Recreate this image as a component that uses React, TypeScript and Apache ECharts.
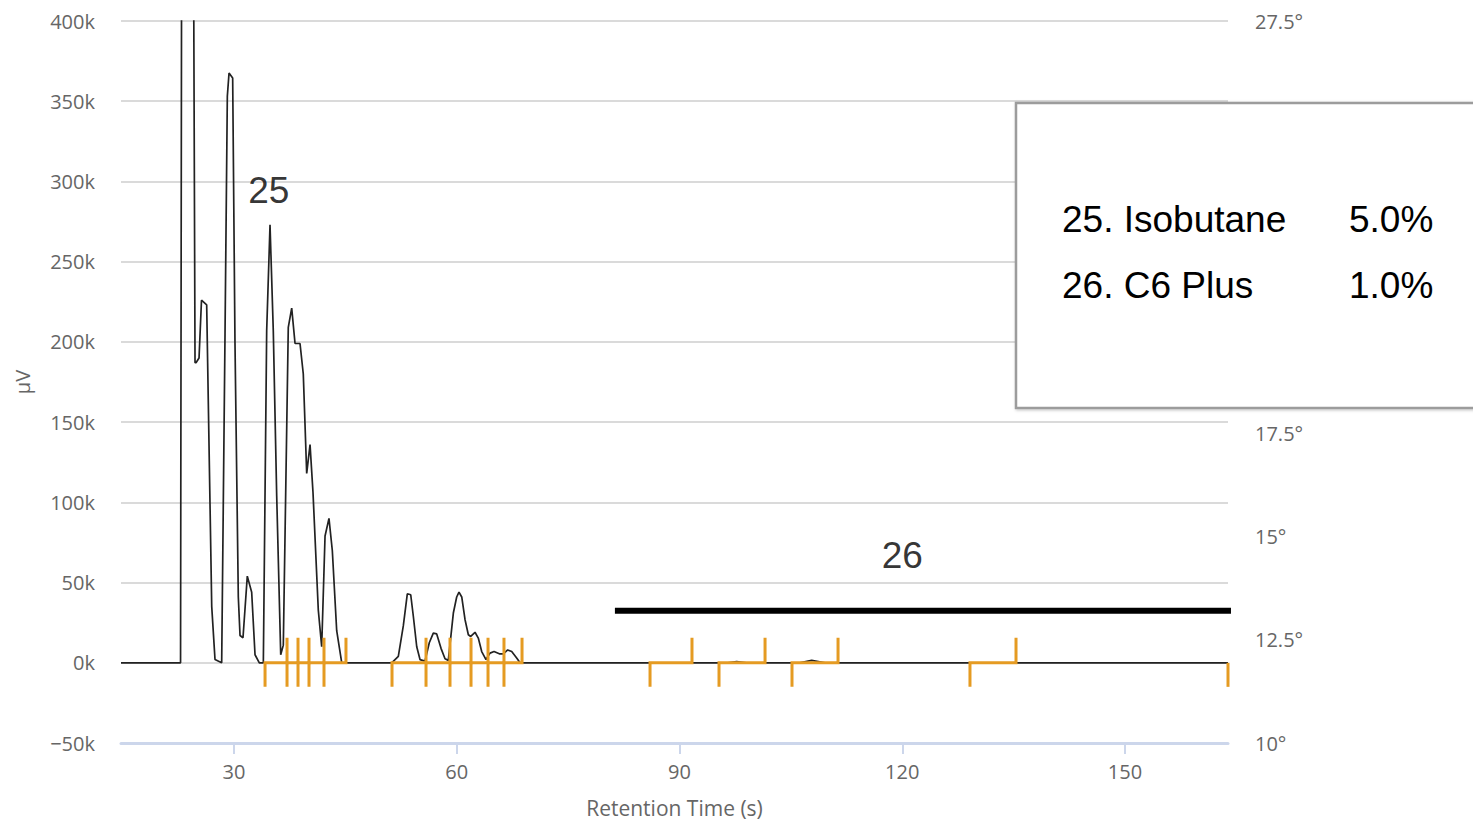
import React, { useEffect, useRef } from 'react';
import * as echarts from 'echarts';

// Chromatogram signal (retention time s, µV)
const signalTime = [
  14.78, 22.8, 23.0, 24.4, 24.75, 24.88, 25.29, 25.62, 26.32, 27.0, 27.44, 28.34,
  28.38, 28.79, 29.1, 29.33, 29.82, 30.13, 30.58, 30.81, 31.21, 31.79, 32.38, 32.83, 33.41,
  33.95, 34.4, 34.85, 35.29, 35.75, 36.29, 36.64, 37.31, 37.77, 38.22, 38.89, 39.33, 39.79,
  40.24, 40.64, 41.35, 41.81, 42.26, 42.79, 43.24, 43.83, 44.51,
  51.24, 52.13, 52.8, 53.34, 53.8, 54.15, 54.61, 55.05, 55.72, 56.3, 56.84, 57.3, 57.88,
  58.42, 58.86, 59.54, 59.99, 60.3, 60.67, 61.11, 61.56, 61.88, 62.46, 62.9, 63.36, 63.94,
  64.48, 65.02, 65.73, 66.27, 66.86, 67.4, 68.07, 68.52,
  96.5, 97.7, 99.0, 106.2, 107.8, 109.6, 163.87,
];
const signalValue = [
  0, 0, 620000, 640000, 187000, 187000, 190000, 226000, 223000, 35000, 2000, 0,
  0, 205000, 353000, 367600, 364500, 200000, 41000, 17000, 15600, 54000, 44000, 5000, 0,
  0, 207000, 273000, 207000, 104000, 5000, 11000, 209000, 221000, 199000, 199000, 180000, 118000,
  136000, 106000, 33000, 10000, 79000, 90000, 70000, 20000, 0,
  0, 4000, 23000, 43000, 42400, 29000, 10000, 2000, 1000, 12500, 18500, 18000, 9000,
  2500, 1500, 31000, 41000, 44000, 41000, 27000, 17500, 16400, 19000, 15400, 7000, 2000,
  6000, 7000, 5600, 5600, 8000, 7000, 3000, 0,
  0, 800, 0, 0, 1500, 0, 0,
];

// Integration windows (start, end) in seconds
const peakStarts = [34.18, 37.14, 38.62, 40.1, 42.12, 51.28, 55.86, 59.09, 61.92, 64.21, 66.36, 86.03, 95.32, 105.15, 129.12, 163.87];
const peakEnds = [37.14, 38.62, 40.1, 42.12, 45.08, 55.86, 59.09, 61.92, 64.21, 66.36, 68.79, 91.68, 101.52, 111.35, 135.32, 175];
const markerUp = 15600;
const markerDown = -15000;

// Component 26 range bar
const barStart = 81.3;
const barEnd = 164.27;
const barLevel = 32400;

// Peak labels
const peakLabelNames = ['25', '26'];
const peakLabelTime = [34.69, 120];
const peakLabelValue = [294500, 66700];

// Legend table
const compNames = ['25. Isobutane', '26. C6 Plus'];
const compPercents = ['5.0%', '1.0%'];

const xTicks = [30, 60, 90, 120, 150];
// right-axis labels visible (others are hidden behind the legend box)
const rightLabelsShown = [10, 12.5, 15, 17.5, 27.5];

const FONT = "'Open Sans', 'Noto Sans', sans-serif";
const BIG = "'Liberation Sans', Arial, sans-serif";
const ORANGE = '#e59b22';

export default function App() {
  const ref = useRef<HTMLDivElement>(null);
  useEffect(() => {
    const chart = echarts.init(ref.current!, null, { renderer: 'svg' });
    const signal = signalTime.map((t, i) => [t, signalValue[i]]);
    const peaks = peakStarts.map((s, i) => [s, peakEnds[i]]);
    const labels = peakLabelTime.map((t, i) => ({ value: [t, peakLabelValue[i]], name: peakLabelNames[i] }));

    const graphics: any[] = [
      {
        type: 'rect',
        z: 100,
        shape: { x: 1016, y: 103, width: 520, height: 305 },
        style: { fill: '#fff', stroke: '#9c9c9c', lineWidth: 2.5, shadowBlur: 3, shadowColor: 'rgba(0,0,0,0.25)', shadowOffsetX: 1, shadowOffsetY: 1 },
      },
    ];
    compNames.forEach((n, i) => {
      graphics.push({
        type: 'text', z: 101, x: 1062, y: 219 + i * 66,
        style: { text: n, font: `37px ${BIG}`, fill: '#000', textVerticalAlign: 'middle', textAlign: 'left' },
      });
      graphics.push({
        type: 'text', z: 101, x: 1349, y: 219 + i * 66,
        style: { text: compPercents[i], font: `37px ${BIG}`, fill: '#000', textVerticalAlign: 'middle', textAlign: 'left' },
      });
    });

    const option: any = {
      animation: false,
      backgroundColor: '#fff',
      grid: { left: 121, right: 245, top: 21, height: 722, containLabel: false, outerBoundsMode: 'none' },
      xAxis: {
        type: 'value',
        min: 14.78,
        max: 163.87,
        name: 'Retention Time (s)',
        nameLocation: 'middle',
        nameGap: 54,
        nameTextStyle: { fontFamily: FONT, fontSize: 21, lineHeight: 21, color: '#666' },
        axisLine: { show: true, onZero: false, lineStyle: { color: '#ccd6eb', width: 3 } },
        axisTick: { show: true, customValues: xTicks, length: 11, lineStyle: { color: '#ccd6eb', width: 2 } },
        axisLabel: { customValues: xTicks, margin: 18, fontFamily: FONT, fontSize: 20, color: '#666' },
        splitLine: { show: false },
      },
      yAxis: [
        {
          type: 'value',
          min: -50000,
          max: 400000,
          interval: 50000,
          name: 'µV',
          nameLocation: 'middle',
          nameGap: 89,
          nameRotate: 90,
          nameTextStyle: { fontFamily: FONT, fontSize: 20, color: '#666' },
          axisLine: { show: false },
          axisTick: { show: false },
          axisLabel: {
            margin: 26, fontFamily: FONT, fontSize: 20, color: '#666',
            formatter: (v: number) => (v < 0 ? '\u2212' + Math.abs(v) / 1000 + 'k' : v / 1000 + 'k'),
          },
          splitLine: { show: true, lineStyle: { color: '#dadada', width: 2 } },
        },
        {
          type: 'value',
          position: 'right',
          min: 10,
          max: 27.5,
          interval: 2.5,
          axisLine: { show: false },
          axisTick: { show: false },
          splitLine: { show: false },
          axisLabel: {
            margin: 27, fontFamily: FONT, fontSize: 20, color: '#666',
            formatter: (v: number) => (rightLabelsShown.indexOf(v) >= 0 ? v + '°' : ''),
          },
        },
      ],
      series: [
        {
          type: 'line',
          data: signal,
          showSymbol: false,
          symbol: 'none',
          lineStyle: { color: '#222', width: 1.7 },
          z: 2,
          silent: true,
        },
        {
          type: 'custom',
          data: peaks,
          encode: { x: [0, 1] },
          z: 3,
          renderItem: (params: any, api: any) => {
            const s = api.value(0);
            const e = api.value(1);
            const cs = params.coordSys;
            const right = cs.x + cs.width;
            const p0 = api.coord([s, markerDown]);
            const p1 = api.coord([s, 0]);
            const p2 = api.coord([e, 0]);
            const p3 = api.coord([e, markerUp]);
            const pts = p2[0] > right + 0.5 ? [p0, p1, [Math.max(right, p1[0]), p1[1]]] : [p0, p1, p2, p3];
            return {
              type: 'polyline',
              shape: { points: pts },
              style: { stroke: ORANGE, lineWidth: 3, fill: 'none', lineJoin: 'miter' },
            };
          },
        },
        {
          type: 'line',
          data: [[barStart, barLevel], [barEnd, barLevel]],
          showSymbol: false,
          symbol: 'none',
          clip: false,
          lineStyle: { color: '#000', width: 6, cap: 'butt' },
          z: 4,
        },
        {
          type: 'scatter',
          data: labels,
          symbolSize: 0,
          z: 5,
          label: {
            show: true,
            position: 'inside',
            formatter: (p: any) => p.name,
            fontFamily: BIG,
            fontSize: 37,
            color: '#000',
          },
        },
      ],
      graphic: graphics,
    };
    chart.setOption(option);
    return () => chart.dispose();
  }, []);
  return (
    <div
      ref={ref}
      style={{ position: 'fixed', left: 0, top: 0, width: 1473, height: 820, background: '#fff' }}
    />
  );
}
